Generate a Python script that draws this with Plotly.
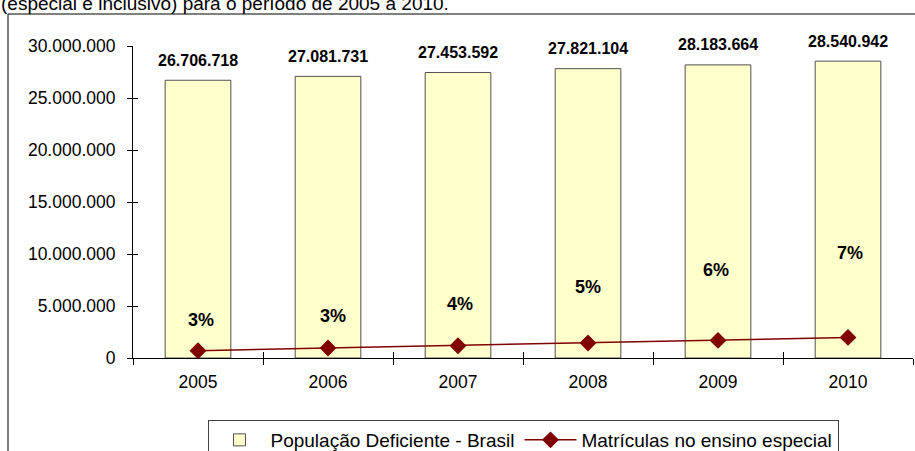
import plotly.graph_objects as go

# ---- data ----
years = ["2005", "2006", "2007", "2008", "2009", "2010"]
populacao = [26706718, 27081731, 27453592, 27821104, 28183664, 28540942]
matriculas = [700000, 960000, 1180000, 1440000, 1690000, 1980000]
pct_labels = ["3%", "3%", "4%", "5%", "6%", "7%"]
y_tick_values = [0, 5000000, 10000000, 15000000, 20000000, 25000000, 30000000]
title_fragment = "(especial e inclusivo) para o período de 2005 a 2010."
legend_names = ["População Deficiente - Brasil", "Matrículas no ensino especial"]

# ---- styles ----
FONT = "Arial, 'Liberation Sans', sans-serif"
pct_yshift = [31, 32, 42, 56, 70, 84]
pct_xshift = [3, 5, 2, 0, -2, 2]

W, H = 915, 451
ML, MR, MT, MB = 133, 2, 46, 93
PW, PH = W - ML - MR, H - MT - MB


def px_x(p):
    return (p - ML) / PW


def px_y(p):
    return (H - MB - p) / PH


def fmt(v):
    return f"{v:,}".replace(",", ".")


fig = go.Figure()
fig.add_trace(go.Bar(
    x=years, y=populacao, name=legend_names[0],
    marker=dict(color="#FFFFCC", line=dict(color="#505050", width=1)),
    hoverinfo="skip",
))
fig.add_trace(go.Scatter(
    x=years, y=matriculas, name=legend_names[1], mode="lines+markers",
    line=dict(color="#800000", width=1.5),
    marker=dict(symbol="diamond", size=13, color="#800000"),
    hoverinfo="skip",
))
# invisible helper trace for the overlay axes (crossing ticks)
fig.add_trace(go.Scatter(
    x=years, y=populacao, xaxis="x2", yaxis="y2", mode="markers",
    marker=dict(opacity=0), showlegend=False, hoverinfo="skip",
))

annotations = []
for i, v in enumerate(populacao):
    annotations.append(dict(
        x=i, y=v, xref="x", yref="y", text="<b>" + fmt(v) + "</b>", showarrow=False,
        yanchor="middle", yshift=20,
        font=dict(family=FONT, size=16, color="black"),
    ))
for i, (v, t, dy, dx) in enumerate(zip(matriculas, pct_labels, pct_yshift, pct_xshift)):
    annotations.append(dict(
        x=i, y=v, xref="x", yref="y", text="<b>" + t + "</b>", showarrow=False,
        yanchor="middle", yshift=dy, xshift=dx,
        font=dict(family=FONT, size=18, color="black"),
    ))
annotations.append(dict(
    x=px_x(-1), y=px_y(3), xref="paper", yref="paper", text=title_fragment,
    showarrow=False, xanchor="left", yanchor="middle",
    font=dict(family=FONT, size=19, color="black"),
))

fig.update_layout(
    width=W, height=H,
    margin=dict(l=ML, r=MR, t=MT, b=MB, autoexpand=False),
    paper_bgcolor="white", plot_bgcolor="white",
    separators=",.",
    bargap=0.495,
    font=dict(family=FONT, size=18, color="black"),
    showlegend=True,
    legend=dict(
        orientation="h", x=0.5, xanchor="center", y=px_y(420), yanchor="top",
        bordercolor="#404040", borderwidth=1, bgcolor="white",
        font=dict(family=FONT, size=19, color="black"),
        itemwidth=52,
    ),
    xaxis=dict(
        type="category", range=[-0.5, 5.5], tickson="boundaries",
        ticks="outside", ticklen=6, tickcolor="black",
        showline=True, linecolor="black", linewidth=1,
        showgrid=False, zeroline=False,
        tickfont=dict(family=FONT, size=17.5, color="black"),
        ticklabelstandoff=8,
    ),
    yaxis=dict(
        range=[0, 30000000], tickvals=y_tick_values, tickformat=",d",
        ticks="outside", ticklen=5, tickcolor="black",
        showline=True, linecolor="black", linewidth=1,
        showgrid=False, zeroline=False,
        tickfont=dict(family=FONT, size=17.5, color="black"),
        ticklabelstandoff=8,
    ),
    xaxis2=dict(
        type="category", range=[-0.5, 5.5], tickson="boundaries", overlaying="x",
        side="bottom", ticks="inside", ticklen=6, tickcolor="black",
        showticklabels=False, showline=False, showgrid=False, zeroline=False,
    ),
    yaxis2=dict(
        range=[0, 30000000], tickvals=y_tick_values, overlaying="y", side="left",
        ticks="inside", ticklen=5, tickcolor="black",
        showticklabels=False, showline=False, showgrid=False, zeroline=False,
    ),
    annotations=annotations,
    shapes=[dict(
        type="rect", xref="paper", yref="paper",
        x0=px_x(8), x1=px_x(1000), y0=px_y(600), y1=px_y(14),
        line=dict(color="black", width=1), fillcolor="rgba(0,0,0,0)", layer="below",
    )],
)

fig.write_html(
    "out.html",
    config={"displayModeBar": False},
    post_script="document.body.style.margin='0';document.body.style.overflow='hidden';",
)
